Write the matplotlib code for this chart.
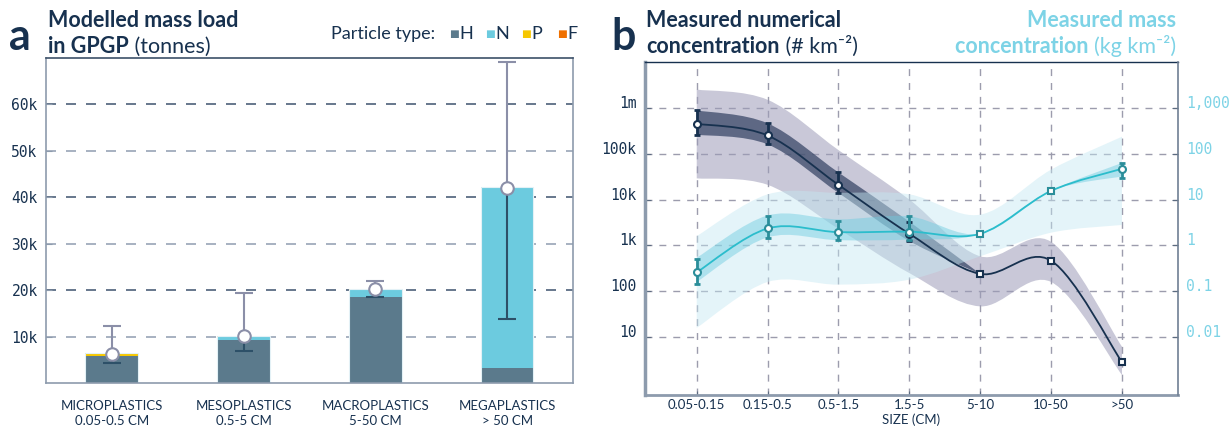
import matplotlib
matplotlib.use("Agg")
import matplotlib.pyplot as plt
import numpy as np
from matplotlib.path import Path
from matplotlib.patches import PathPatch

plt.rcParams['font.family'] = ['Lato', 'DejaVu Sans']
MONO = 'DejaVu Sans Mono'
NAVY = '#17314f'
CYAN_TXT = '#7dd3e6'

# ---- panel a data: modelled mass load (tonnes)
a_cats = ['MICROPLASTICS\n0.05-0.5 CM', 'MESOPLASTICS\n0.5-5 CM',
          'MACROPLASTICS\n5-50 CM', 'MEGAPLASTICS\n> 50 CM']
load_H = [5750, 9300, 18600, 3200]
load_N = [150, 550, 1500, 39100]
load_P = [500, 250, 50, 0]
load_F = [0, 0, 50, 0]
load_mid = [6300, 10100, 20200, 42000]
load_lo = [4300, 7000, 18500, 13700]
load_hi = [12300, 19450, 21900, 69100]
a_yticks = [10000, 20000, 30000, 40000, 50000, 60000]

# ---- panel b data
sizes = ['0.05-0.15', '0.15-0.5', '0.5-1.5', '1.5-5', '5-10', '10-50', '>50']
num_mid = [4.5e5, 2.5e5, 2.1e4, 1.8e3, 240, 465, 2.85]
num_meas = [True, True, True, True, False, False, False]
num_err_lo = [2.6e5, 1.6e5, 1.4e4, 1.25e3]
num_err_hi = [9.1e5, 4.6e5, 3.9e4, 3.3e3]
num_iqr_lo = [2.6e5, 1.6e5, 1.4e4, 1.25e3, 240]
num_iqr_hi = [8.8e5, 4.6e5, 3.9e4, 3.3e3, 240]
num_rng_lo = [2.9e4, 2.1e4, 2.3e3, 250, 47, 160, 1.5]
num_rng_hi = [2.5e6, 1.5e6, 1.2e5, 1.0e4, 580, 1.2e3, 6.2]

mass_mid = [0.26, 2.35, 1.95, 2.0, 1.8, 15.5, 47]
mass_meas = [True, True, True, True, False, False, True]
mass_err_idx = [0, 1, 2, 3, 6]
mass_err_lo = [0.145, 1.45, 1.3, 1.3, 30]
mass_err_hi = [0.51, 4.3, 3.5, 4.3, 64]
mass_iqr_lo = [0.16, 1.5, 1.3, 1.35, 1.8, 15.5, 32]
mass_iqr_hi = [0.54, 4.5, 3.7, 4.3, 1.8, 15.5, 63]
mass_rng_lo = [0.016, 0.16, 0.14, 0.18, 0.58, 1.9, 2.8]
mass_rng_hi = [1.6, 13, 14, 13, 4.7, 45, 235]

num_ticks = [10, 100, 1e3, 1e4, 1e5, 1e6]
num_labels = ['10', '100', '1k', '10k', '100k', '1m']
mass_ticks = [0.01, 0.1, 1, 10, 100, 1000]
mass_labels = ['0.01', '0.1', '1', '10', '100', '1,000']


def smooth(xs, ys):
    # Catmull-Rom curve through the points, drawn as bezier segments in log space
    px = np.asarray(xs, float)
    py = np.log10(np.asarray(ys, float))
    n = len(px)
    verts = [(px[0], py[0])]
    codes = [Path.MOVETO]
    for i in range(n - 1):
        i0 = max(i - 1, 0)
        i3 = min(i + 2, n - 1)
        c1 = (px[i] + (px[i + 1] - px[i0]) / 6, py[i] + (py[i + 1] - py[i0]) / 6)
        c2 = (px[i + 1] - (px[i3] - px[i]) / 6, py[i + 1] - (py[i3] - py[i]) / 6)
        verts += [c1, c2, (px[i + 1], py[i + 1])]
        codes += [Path.CURVE4] * 3
    verts = [(vx, 10 ** vy) for vx, vy in verts]
    return verts, codes


def band(xs, lo, hi):
    vu, cu = smooth(xs, hi)
    vl, cl = smooth(xs[::-1], lo[::-1])
    cl[0] = Path.LINETO
    return Path(vu + vl + [vu[0]], cu + cl + [Path.CLOSEPOLY])


fig = plt.figure(figsize=(12.29, 4.26), dpi=100)

# ================= panel a
axa = fig.add_axes([0.0374, 0.1009, 0.4288, 0.7629])
xa = np.arange(len(a_cats))
bottom = np.zeros(len(a_cats))
for vals, col in [(load_H, '#5b7a8c'), (load_N, '#6ccbdf'),
                  (load_P, '#f6c700'), (load_F, '#ef7000')]:
    axa.bar(xa, vals, 0.4, bottom=bottom, color=col, edgecolor='none', zorder=2)
    bottom += np.array(vals)
axa.bar(xa, bottom, 0.4, fill=False, edgecolor='#e3f1f6', linewidth=0.8, zorder=2)

for i, t in enumerate(a_yticks):
    axa.axhline(t, color='#4d6079' if i % 2 else '#98a4b6', lw=1.2,
                dashes=(6, 6), zorder=1)

axa.vlines(xa, load_lo, load_mid, color='#2d5068', lw=1.5, zorder=3)
axa.vlines(xa, load_mid, load_hi, color='#8b8fa8', lw=1.5, zorder=3)
axa.plot(xa, load_lo, ls='none', marker='_', ms=12.5, mew=1.5, color='#2d5068', zorder=3)
axa.plot(xa, load_hi, ls='none', marker='_', ms=12.5, mew=1.5, color='#8b8fa8', zorder=3)
axa.plot(xa, load_mid, ls='none', marker='o', ms=9, mfc='white', mec='#8b8fa8',
         mew=1.5, zorder=5)

axa.set_xlim(-0.5, 3.5)
axa.set_ylim(0, 70000)
axa.set_yticks(a_yticks)
axa.set_yticklabels([f'{int(t / 1000)}k' for t in a_yticks], family=MONO,
                    fontsize=10.5, color=NAVY)
axa.set_xticks(xa)
axa.set_xticklabels(a_cats, fontsize=9.5, color=NAVY, linespacing=1.3)
axa.tick_params(axis='y', direction='in', length=4, color='#8d9bad', pad=6)
axa.tick_params(axis='x', length=0, pad=12)
for s in axa.spines.values():
    s.set_color('#8d9bad')
    s.set_linewidth(1.2)
axa.spines['top'].set_color('#3c5068')

fig.text(0.007, 1 - 50 / 426, 'a', fontsize=31, weight='bold', color=NAVY, va='baseline')
fig.text(48 / 1229, 1 - 27 / 426, 'Modelled mass load', fontsize=15.5, weight='bold',
         color=NAVY, va='baseline')
ta = fig.text(48 / 1229, 1 - 53 / 426, 'in GPGP', fontsize=15.5, weight='bold',
              color=NAVY, va='baseline')
fig.add_artist(matplotlib.text.Annotation(' (tonnes)', xy=(1, 0), xycoords=ta,
                                          va='bottom', fontsize=15.5, color=NAVY))

leg_y = 1 - 34 / 426
fig.text(331 / 1229, leg_y, 'Particle type:', fontsize=13, color=NAVY, va='center')
for lab, col, xs in [('H', '#5b7a8c', 449), ('N', '#6ccbdf', 485),
                     ('P', '#f6c700', 521), ('F', '#ef7000', 557)]:
    fig.text(xs / 1229, leg_y, '\u25a0', fontsize=7.5, color=col, va='center',
             family='DejaVu Sans')
    fig.text((xs + 10) / 1229, leg_y, lab, fontsize=13, color=NAVY, va='center')

# ================= panel b
axb = fig.add_axes([0.5248, 0.0728, 0.4337, 0.7817])
axb.set_yscale('log')
axb.set_ylim(0.55, 1e7)
axb.set_xlim(-0.73, 6.79)
ax2 = axb.twinx()
ax2.set_yscale('log')
ax2.set_ylim(0.55e-3, 1e4)

xb = np.arange(len(sizes))
gcol = '#9c9cad'
for t in num_ticks:
    axb.axhline(t, color=gcol, lw=1, dashes=(5, 5), zorder=0)
for xv in xb:
    axb.axvline(xv, color=gcol, lw=1, dashes=(5, 5), zorder=0)

# numerical concentration bands
axb.add_patch(PathPatch(band(xb, num_rng_lo, num_rng_hi), facecolor='#9d9cb8',
                        alpha=0.55, edgecolor='none', zorder=1))
axb.add_patch(PathPatch(band(xb[:5], num_iqr_lo, num_iqr_hi), facecolor='#3a4868',
                        alpha=0.75, edgecolor='none', zorder=2))

# mass concentration bands
ax2.add_patch(PathPatch(band(xb, mass_rng_lo, mass_rng_hi), facecolor='#c4e8f2',
                        alpha=0.45, edgecolor='none', zorder=1))
ax2.add_patch(PathPatch(band(xb, mass_iqr_lo, mass_iqr_hi), facecolor='#6ccbdf',
                        alpha=0.45, edgecolor='none', zorder=2))

# lines
vn, cn = smooth(xb, num_mid)
ax2.add_patch(PathPatch(Path(vn, cn), fill=False, edgecolor=NAVY, lw=1.3,
                        transform=axb.transData, zorder=3))
vm, cm = smooth(xb, mass_mid)
ax2.add_patch(PathPatch(Path(vm, cm), fill=False, edgecolor='#2bbdcc', lw=1.3, zorder=3))

# error bars and markers
ax2.errorbar(xb[:4], num_mid[:4],
             yerr=[np.array(num_mid[:4]) - num_err_lo, np.array(num_err_hi) - num_mid[:4]],
             fmt='none', ecolor=NAVY, elinewidth=2, capsize=2.5, capthick=2,
             transform=axb.transData, zorder=4)
ax2.errorbar(xb[mass_err_idx], np.array(mass_mid)[mass_err_idx],
             yerr=[np.array(mass_mid)[mass_err_idx] - mass_err_lo,
                   np.array(mass_err_hi) - np.array(mass_mid)[mass_err_idx]],
             fmt='none', ecolor='#2b8e9a', elinewidth=2, capsize=2.5, capthick=2, zorder=4)
for i in xb:
    ax2.plot(i, num_mid[i], marker='o' if num_meas[i] else 's', ms=5, mfc='white',
             mec=NAVY, mew=1.5, transform=axb.transData, zorder=5)
    ax2.plot(i, mass_mid[i], marker='o' if mass_meas[i] else 's', ms=5, mfc='white',
             mec='#2b8e9a', mew=1.5, zorder=5)
ax2.set_ylim(0.55e-3, 1e4)
axb.set_xlim(-0.73, 6.79)

axb.set_yticks(num_ticks)
axb.set_yticklabels(num_labels, family=MONO, fontsize=10.5, color=NAVY)
axb.yaxis.set_minor_locator(matplotlib.ticker.NullLocator())
ax2.set_yticks(mass_ticks)
ax2.set_yticklabels(mass_labels, family=MONO, fontsize=10.5, color=CYAN_TXT)
ax2.yaxis.set_minor_locator(matplotlib.ticker.NullLocator())
for lab in axb.get_yticklabels() + ax2.get_yticklabels():
    lab.set_verticalalignment('baseline')
axb.set_xticks(xb)
axb.set_xticklabels(sizes, fontsize=9.5, color=NAVY)
axb.set_xlabel('SIZE (CM)', fontsize=9.5, color=NAVY, labelpad=2)
axb.tick_params(axis='y', direction='in', length=4, color='#5b6b80', pad=6)
axb.tick_params(axis='x', direction='in', length=3, color='#5b6b80', pad=3)
ax2.tick_params(axis='y', direction='in', length=4, color='#5b6b80', pad=6)

for a in (axb, ax2):
    for s in a.spines.values():
        s.set_visible(False)
axb.spines['left'].set_visible(True)
axb.spines['left'].set_color('#8d9bad')
axb.spines['left'].set_linewidth(2.5)
axb.spines['bottom'].set_visible(True)
axb.spines['bottom'].set_color('#8d9bad')
axb.spines['bottom'].set_linewidth(2)
axb.spines['top'].set_visible(True)
axb.spines['top'].set_color(NAVY)
axb.spines['top'].set_linewidth(1)
ax2.spines['right'].set_visible(True)
ax2.spines['right'].set_color('#6f7f93')
ax2.spines['right'].set_linewidth(1.2)

fig.text(611 / 1229, 1 - 50 / 426, 'b', fontsize=31, weight='bold', color=NAVY, va='baseline')
fig.text(646 / 1229, 1 - 27 / 426, 'Measured numerical', fontsize=15.5, weight='bold',
         color=NAVY, va='baseline')
tb = fig.text(646 / 1229, 1 - 53 / 426, 'concentration', fontsize=15.5, weight='bold',
              color=NAVY, va='baseline')
fig.add_artist(matplotlib.text.Annotation(' (# km\u207b\u00b2)', xy=(1, 0), xycoords=tb,
                                          va='bottom', fontsize=15.5, color=NAVY))
fig.text(1176 / 1229, 1 - 27 / 426, 'Measured mass', fontsize=15.5, weight='bold',
         color=CYAN_TXT, va='baseline', ha='right')
tc = fig.text(1176 / 1229, 1 - 53 / 426, '(kg km\u207b\u00b2)', fontsize=15.5,
              color=CYAN_TXT, va='baseline', ha='right')
fig.add_artist(matplotlib.text.Annotation('concentration ', xy=(0, 0), xycoords=tc,
                                          va='bottom', ha='right', fontsize=15.5,
                                          weight='bold', color=CYAN_TXT))

fig.savefig('out.png', dpi=100)
